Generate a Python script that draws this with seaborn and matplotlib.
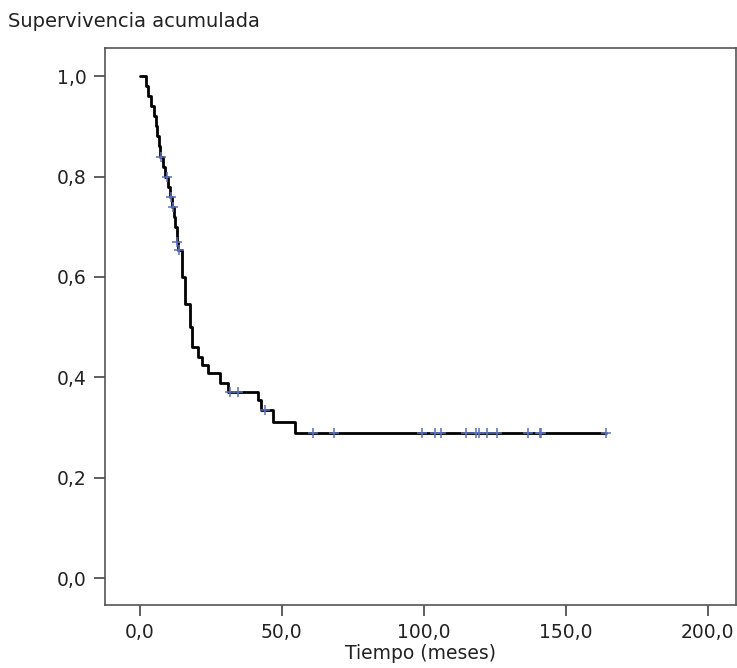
# Curva de supervivencia acumulada (Kaplan-Meier)
import numpy as np
import pandas as pd
import seaborn as sns
import matplotlib.pyplot as plt
from matplotlib.ticker import FuncFormatter

# tiempos de cada escalon (meses) y supervivencia tras el escalon
tiempo = [0.0, 2.0, 3.0, 4.0, 4.8, 5.5, 6.0, 6.6, 7.2, 8.2, 9.0, 10.0, 10.6,
          11.2, 12.0, 12.4, 12.9, 13.5, 14.7, 16.0, 17.6, 18.2, 20.5, 21.7,
          24.0, 28.2, 31.1, 41.6, 42.8, 46.9, 54.6, 164.1]
supervivencia = [1.0, 0.98, 0.96, 0.94, 0.92, 0.90, 0.88, 0.86, 0.84, 0.82,
                 0.80, 0.78, 0.76, 0.74, 0.72, 0.70, 0.67, 0.653, 0.60, 0.547,
                 0.50, 0.461, 0.441, 0.424, 0.408, 0.389, 0.371, 0.355, 0.335,
                 0.311, 0.290, 0.290]

# observaciones censuradas
t_censura = [7.6, 9.4, 10.8, 11.6, 13.0, 13.8, 31.7, 34.6, 44.0, 61.0, 68.4,
             99.5, 104.0, 106.0, 114.8, 118.3, 119.4, 122.2, 125.7, 136.6,
             141.0, 141.5, 164.1]
s_censura = [0.84, 0.80, 0.76, 0.74, 0.67, 0.653, 0.371, 0.371, 0.335, 0.29,
             0.29, 0.29, 0.29, 0.29, 0.29, 0.29, 0.29, 0.29, 0.29, 0.29,
             0.29, 0.29, 0.29]

xticks = [0, 50, 100, 150, 200]
yticks = [0.0, 0.2, 0.4, 0.6, 0.8, 1.0]

sns.set_style('ticks')
plt.rcParams['font.family'] = ['DejaVu Sans']

curva = pd.DataFrame({'t': tiempo, 's': supervivencia})
cens = pd.DataFrame({'t': t_censura, 's': s_censura})

fig = plt.figure(figsize=(7.37, 6.68), dpi=100)
ax = fig.add_axes([0.1425, 0.094, 0.856, 0.834])

sns.lineplot(data=curva, x='t', y='s', drawstyle='steps-post', color='black',
             linewidth=2.0, ax=ax, zorder=2)
sns.scatterplot(data=cens, x='t', y='s', marker='+', color='#5a6fba', s=55,
                linewidth=1.1, ax=ax, zorder=3)

ax.set_xlim(-12.3, 210)
ax.set_ylim(-0.054, 1.056)
ax.set_xticks(xticks)
ax.set_yticks(yticks)
fmt = FuncFormatter(lambda v, p: f'{v:.1f}'.replace('.', ','))
ax.xaxis.set_major_formatter(fmt)
ax.yaxis.set_major_formatter(fmt)
ax.tick_params(axis='both', direction='out', length=8, width=1.2,
               colors='#444444', labelcolor='#222222', labelsize=13.5, pad=5)

for sp in ax.spines.values():
    sp.set_visible(True)
    sp.set_color('#555555')
    sp.set_linewidth(1.2)

ax.set_xlabel('Tiempo (meses)', fontsize=13.5, color='#222222', labelpad=1)
ax.set_ylabel('')
fig.text(0.011, 0.968, 'Supervivencia acumulada', fontsize=14,
         color='#222222', ha='left', va='center')

plt.savefig('out.png', dpi=100)
